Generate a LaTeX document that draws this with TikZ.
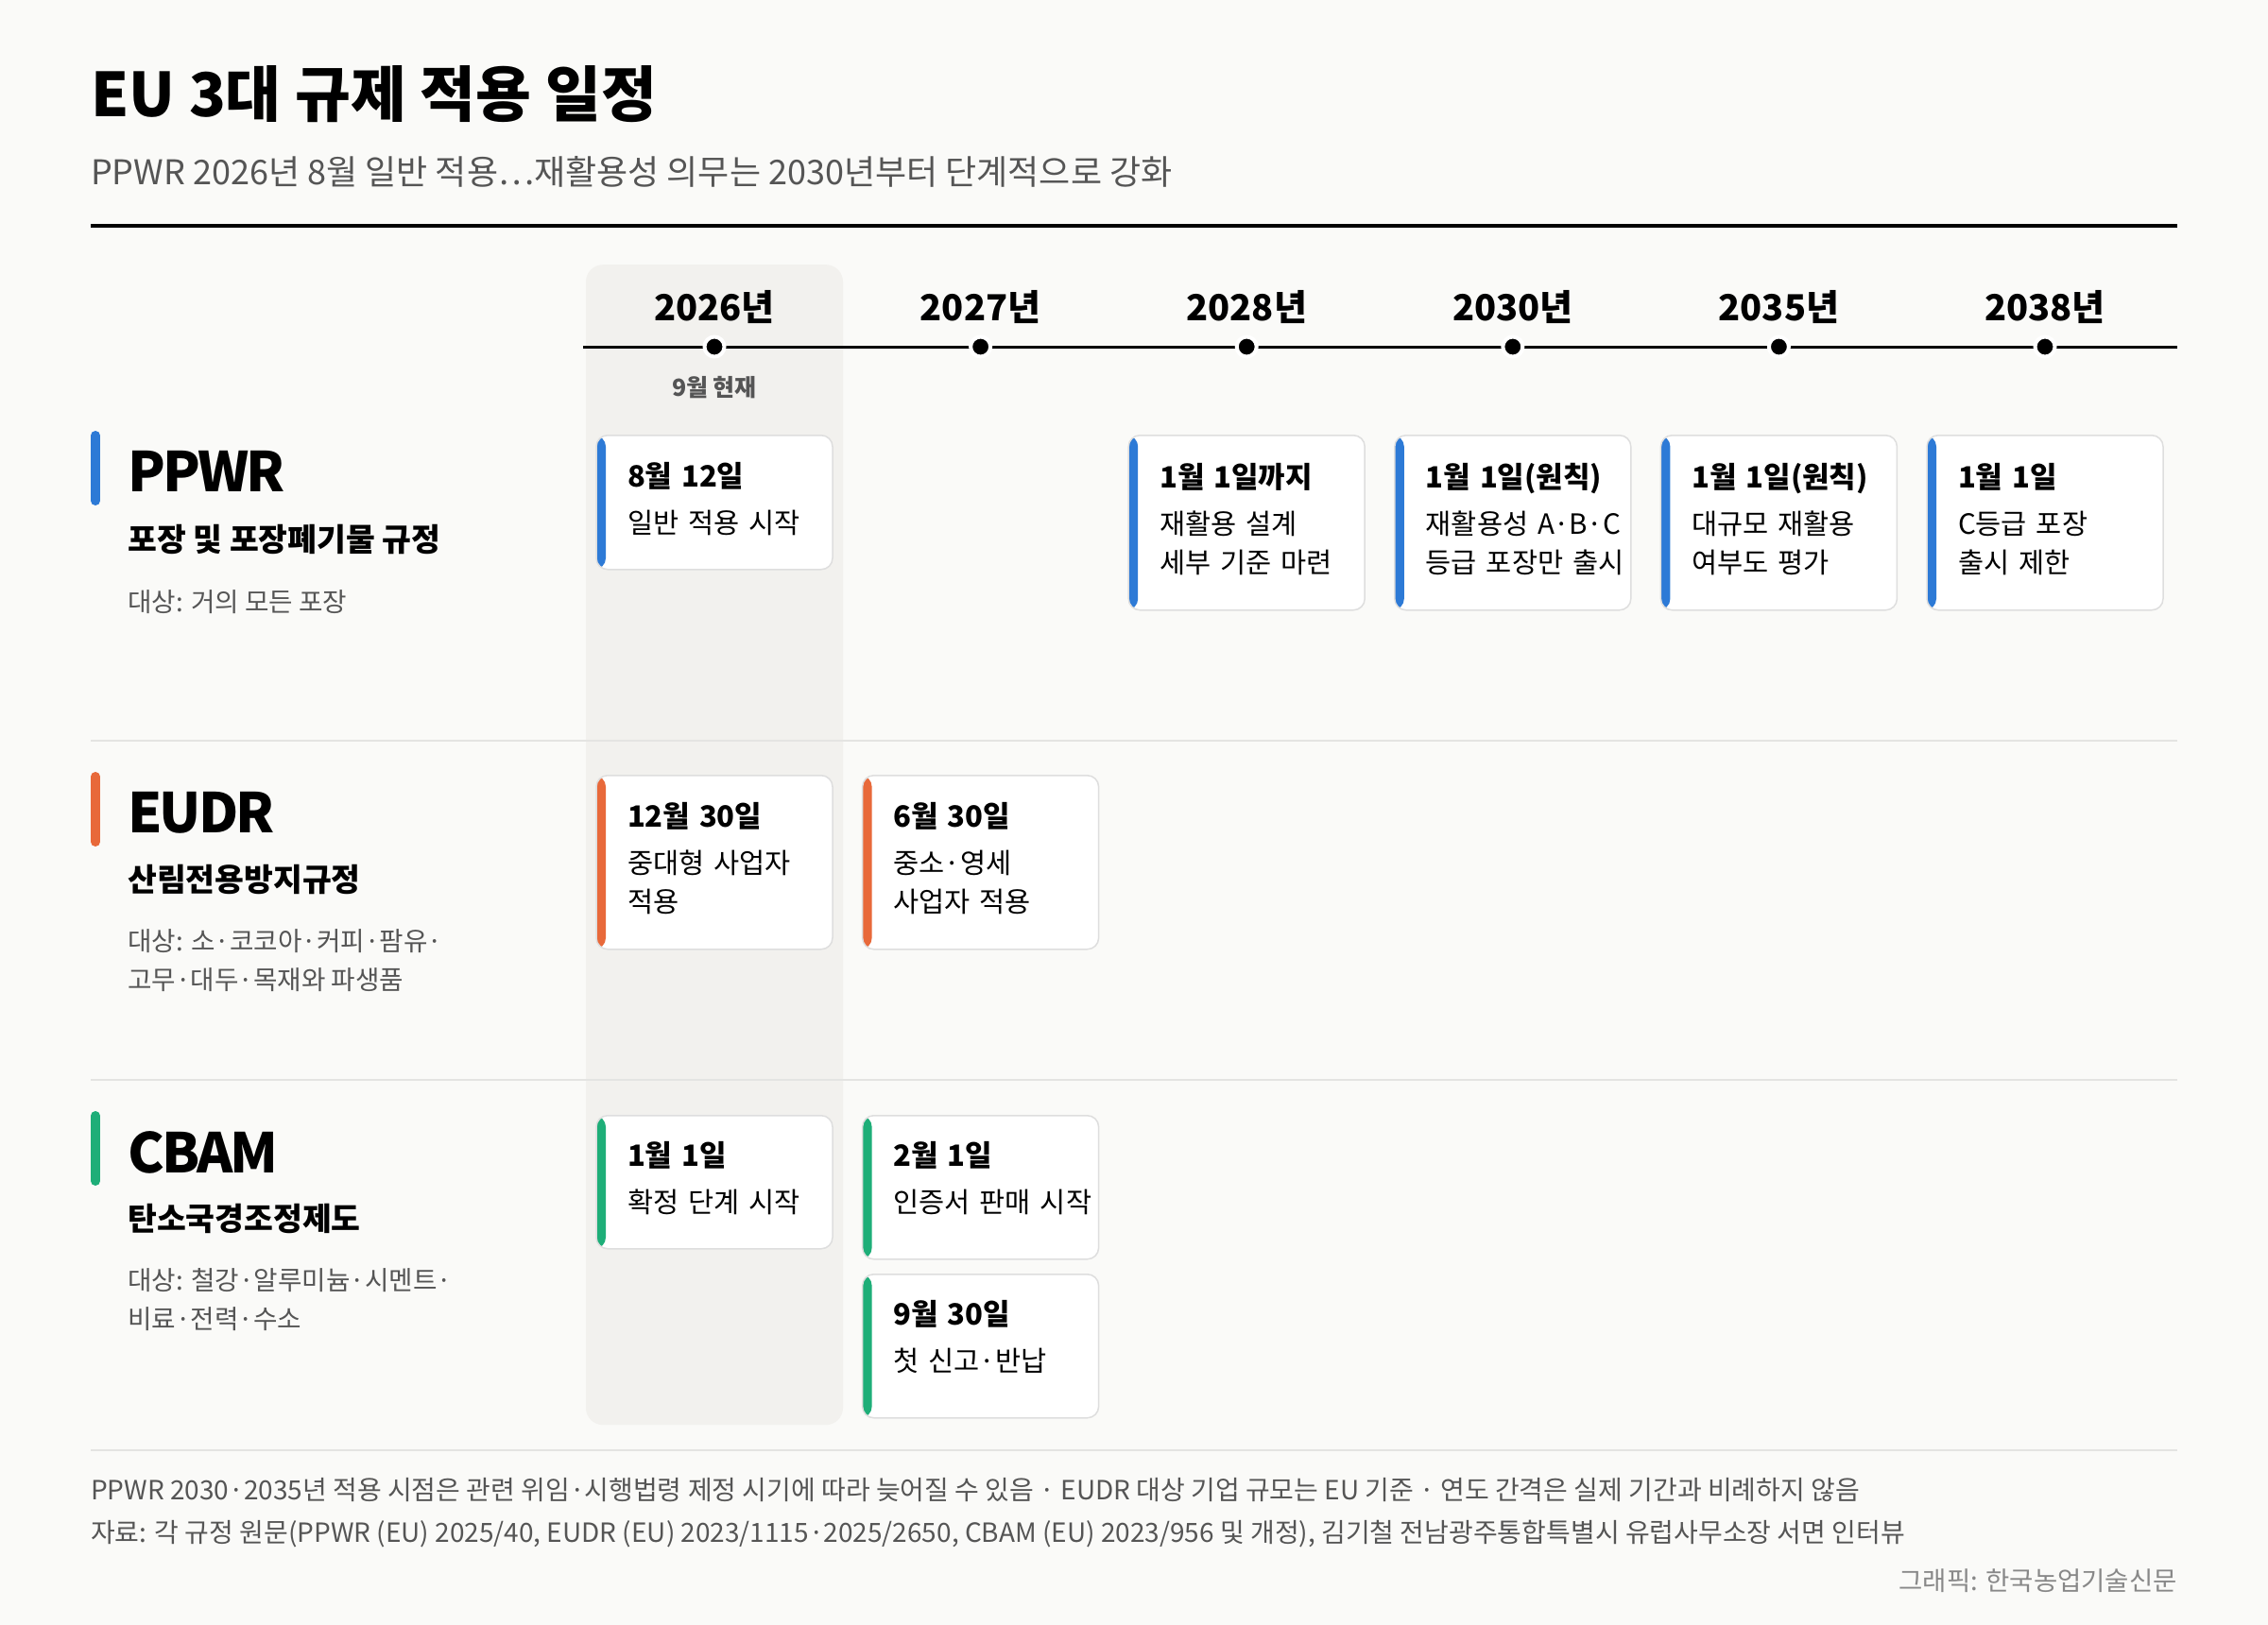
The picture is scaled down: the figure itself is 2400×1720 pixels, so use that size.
\documentclass[tikz,border=0pt]{standalone}
\usepackage{fontspec}
\setmainfont{Noto Sans CJK KR}

\definecolor{pagebg}{HTML}{FAFAF8}
\definecolor{nowgray}{HTML}{F2F1EE}
\definecolor{rulegray}{HTML}{E4E4E2}
\definecolor{cardline}{HTML}{DEDEDE}
\definecolor{textgray}{HTML}{555555}
\definecolor{creditgray}{HTML}{888888}
\definecolor{ppwrblue}{HTML}{2D7AD6}
\definecolor{eudrorange}{HTML}{E8693A}
\definecolor{cbamgreen}{HTML}{1EAE78}

\newcommand\fsz[2]{\fontsize{#1}{#2}\selectfont}
\newlength\cardpad
\setlength\cardpad{33pt}
% date line, then body lines (separated by \\)
\newcommand\cardtext[2]{\begin{tabular}{@{\hspace{\cardpad}}l@{}}%
    {\bfseries\fsz{31}{41}#1}\\[8pt]#2\end{tabular}}

\begin{document}
\begin{tikzpicture}[x=1pt, y=-1pt,
    yearlab/.style={font=\fsz{38}{44}\bfseries, inner sep=0pt},
    yeardot/.style={circle, fill=black, draw=white, line width=4pt, inner sep=0pt, minimum size=21pt},
    rowtitle/.style={anchor=west, font=\fsz{58}{64}\bfseries\addfontfeature{LetterSpace=-5}, inner sep=0pt},
    rowsub/.style={anchor=west, font=\fsz{33.5}{38}\bfseries, inner sep=0pt},
    rowtarget/.style={anchor=west, align=left, font=\fsz{27.7}{41}, text=textgray, inner sep=0pt},
    rowbar/.style={line width=10pt, line cap=round, draw=#1},
    card/.style={draw=cardline, line width=1.5pt, fill=white, rounded corners=12pt,
        anchor=north, text width=250pt, inner xsep=0pt, inner ysep=0pt,
        align=left, font=\fsz{29.5}{41},
        path picture={\fill[#1] (path picture bounding box.north west)
            rectangle ([xshift=10pt]path picture bounding box.south west);}},
    divider/.style={draw=rulegray, line width=1.5pt},
    footnote/.style={anchor=west, font=\fsz{28}{32}, text=textgray, inner sep=0pt}
]
\useasboundingbox (0,0) rectangle (2400,1720);
\fill[pagebg] (0,0) rectangle (2400,1720);

% current-year column
\node[fill=nowgray, rounded corners=18pt, minimum width=272pt, minimum height=1228pt,
    inner sep=0pt, anchor=north] (nowcol) at (756,280) {};

% heading
\node[anchor=west, font=\fsz{64}{70}\bfseries, inner sep=0pt] (title) at (96,100) {EU 3대 규제 적용 일정};
\node[anchor=west, font=\fsz{36}{42}, text=textgray, inner sep=0pt] (subtitle) at (96,182)
    {PPWR 2026년 8월 일반 적용…재활용성 의무는 2030년부터 단계적으로 강화};
\draw[line width=4pt] (96,239) -- (2304,239);

% year axis
\coordinate (axisL) at (617,367);
\coordinate (axisR) at (2304,367);
\draw[line width=3pt] (axisL) -- (axisR);
\foreach \yr [count=\i from 0] in {2026,2027,2028,2030,2035,2038} {
    \node[yearlab] (y\yr) at (756+281.6*\i,325) {\yr{}년};
    \node[yeardot] (d\yr) at (756+281.6*\i,367) {};
}
\node[font=\fsz{25}{28}\bfseries, text=textgray, inner sep=0pt] (now) at (756,410) {9월 현재};

% row dividers
\draw[divider] (96,784) -- (2304,784);
\draw[divider] (96,1143) -- (2304,1143);
\draw[divider, line width=2pt] (96,1535) -- (2304,1535);

% row labels
\draw[rowbar=ppwrblue] (101,461) -- (101,530);
\node[rowtitle] (ppwr) at (135,499) {PPWR};
\node[rowsub] (ppwrsub) at (135,571) {포장 및 포장폐기물 규정};
\node[rowtarget] (ppwrtgt) at (135,637) {대상: 거의 모든 포장};

\draw[rowbar=eudrorange] (101,822) -- (101,891);
\node[rowtitle] (eudr) at (135,860) {EUDR};
\node[rowsub] (eudrsub) at (135,931) {산림전용방지규정};
\node[rowtarget] (eudrtgt) at (135,1017) {대상: 소·코코아·커피·팜유·\\고무·대두·목재와 파생품};

\draw[rowbar=cbamgreen] (101,1181) -- (101,1250);
\node[rowtitle] (cbam) at (135,1220) {CBAM};
\node[rowsub] (cbamsub) at (135,1290) {탄소국경조정제도};
\node[rowtarget] (cbamtgt) at (135,1376) {대상: 철강·알루미늄·시멘트·\\비료·전력·수소};

% cards
\coordinate (rowP) at (0,460);
\coordinate (rowE) at (0,820);
\coordinate (rowC) at (0,1180);
\coordinate (rowC2) at (0,1348);

\node[card=ppwrblue, minimum height=142pt] (p2026) at (d2026 |- rowP) {\cardtext{8월 12일}{일반 적용 시작}};
\node[card=ppwrblue, minimum height=185pt] (p2028) at (d2028 |- rowP) {\cardtext{1월 1일까지}{재활용 설계\\세부 기준 마련}};
\node[card=ppwrblue, minimum height=185pt] (p2030) at (d2030 |- rowP) {\cardtext{1월 1일(원칙)}{재활용성 A·B·C\\등급 포장만 출시}};
\node[card=ppwrblue, minimum height=185pt] (p2035) at (d2035 |- rowP) {\cardtext{1월 1일(원칙)}{대규모 재활용\\여부도 평가}};
\node[card=ppwrblue, minimum height=185pt] (p2038) at (d2038 |- rowP) {\cardtext{1월 1일}{C등급 포장\\출시 제한}};

\node[card=eudrorange, minimum height=184pt] (e2026) at (d2026 |- rowE) {\cardtext{12월 30일}{중대형 사업자\\적용}};
\node[card=eudrorange, minimum height=184pt] (e2027) at (d2027 |- rowE) {\cardtext{6월 30일}{중소·영세\\사업자 적용}};

\node[card=cbamgreen, minimum height=141pt] (c2026) at (d2026 |- rowC) {\cardtext{1월 1일}{확정 단계 시작}};
\node[card=cbamgreen, minimum height=152pt] (c2027a) at (d2027 |- rowC) {\cardtext{2월 1일}{인증서 판매 시작\\[11pt]}};
\node[card=cbamgreen, minimum height=152pt] (c2027b) at (d2027 |- rowC2) {\cardtext{9월 30일}{첫 신고·반납\\[11pt]}};

% footer
\node[footnote] (note) at (96,1577) {PPWR 2030·2035년 적용 시점은 관련 위임·시행법령 제정 시기에 따라 늦어질 수 있음 · EUDR 대상 기업 규모는 EU 기준 · 연도 간격은 실제 기간과 비례하지 않음};
\node[footnote] (source) at (96,1624) {자료: 각 규정 원문(PPWR (EU) 2025/40, EUDR (EU) 2023/1115·2025/2650, CBAM (EU) 2023/956 및 개정), 김기철 전남광주통합특별시 유럽사무소장 서면 인터뷰};
\node[footnote, anchor=east, text=creditgray, font=\fsz{27.5}{32}] (credit) at (2304,1673) {그래픽: 한국농업기술신문};
\end{tikzpicture}
\end{document}
